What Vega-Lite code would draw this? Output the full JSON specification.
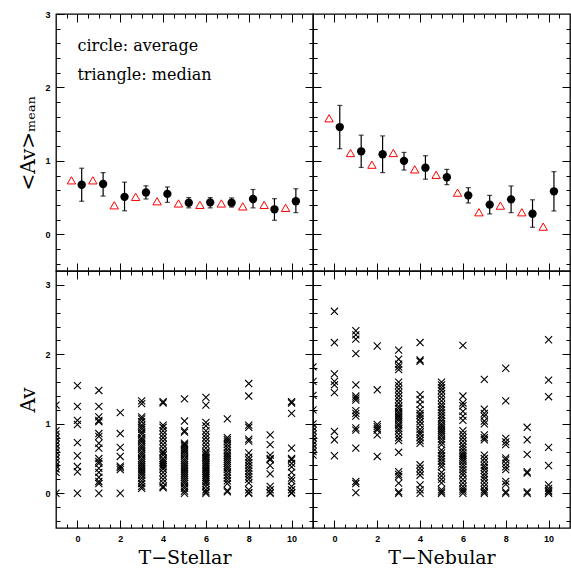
{
"$schema": "https://vega.github.io/schema/vega-lite/v6.json",
"padding": {"left": 18, "top": 9, "right": 0, "bottom": 0},
"config": {
 "view": {"stroke": "black", "strokeWidth": 1.3},
 "axis": {"domain": false, "grid": false, "tickColor": "black", "tickWidth": 1, "labelFont": "Liberation Sans", "labelFontSize": 9, "labelFontWeight": "bold", "labelColor": "black", "titleFont": "DejaVu Serif", "titleFontSize": 20, "titleFontWeight": "normal", "titleColor": "black", "labelOverlap": false, "labelBound": false, "labelFlush": false}
},
"datasets": {
 "meanTS": [
  {"x":0.2,"mean":0.675,"lo":0.45,"hi":0.90},{"x":1.2,"mean":0.685,"lo":0.52,"hi":0.84},{"x":2.2,"mean":0.51,"lo":0.32,"hi":0.71},{"x":3.2,"mean":0.57,"lo":0.48,"hi":0.66},{"x":4.2,"mean":0.55,"lo":0.435,"hi":0.645},{"x":5.2,"mean":0.43,"lo":0.36,"hi":0.50},{"x":6.2,"mean":0.435,"lo":0.36,"hi":0.50},{"x":7.2,"mean":0.43,"lo":0.37,"hi":0.495},{"x":8.2,"mean":0.48,"lo":0.36,"hi":0.61},{"x":9.2,"mean":0.34,"lo":0.19,"hi":0.485},{"x":10.2,"mean":0.45,"lo":0.295,"hi":0.62}
 ],
 "medTS": [
  {"x":-0.28,"median":0.735},{"x":0.72,"median":0.735},{"x":1.72,"median":0.395},{"x":2.72,"median":0.51},{"x":3.72,"median":0.45},{"x":4.72,"median":0.42},{"x":5.72,"median":0.40},{"x":6.72,"median":0.42},{"x":7.72,"median":0.38},{"x":8.72,"median":0.40},{"x":9.72,"median":0.36}
 ],
 "meanTN": [
  {"x":0.25,"mean":1.46,"lo":1.165,"hi":1.755},{"x":1.25,"mean":1.13,"lo":0.91,"hi":1.35},{"x":2.25,"mean":1.09,"lo":0.84,"hi":1.34},{"x":3.25,"mean":1.0,"lo":0.875,"hi":1.115},{"x":4.25,"mean":0.907,"lo":0.75,"hi":1.07},{"x":5.25,"mean":0.776,"lo":0.676,"hi":0.884},{"x":6.25,"mean":0.53,"lo":0.426,"hi":0.635},{"x":7.25,"mean":0.404,"lo":0.277,"hi":0.53},{"x":8.25,"mean":0.476,"lo":0.295,"hi":0.658},{"x":9.25,"mean":0.28,"lo":0.095,"hi":0.47},{"x":10.25,"mean":0.585,"lo":0.317,"hi":0.853}
 ],
 "medTN": [
  {"x":-0.25,"median":1.58},{"x":0.75,"median":1.107},{"x":1.75,"median":0.948},{"x":2.75,"median":1.107},{"x":3.75,"median":0.884},{"x":4.75,"median":0.81},{"x":5.75,"median":0.567},{"x":6.75,"median":0.30},{"x":7.75,"median":0.39},{"x":8.75,"median":0.30},{"x":9.75,"median":0.104}
 ],
 "notes": [
  {"x":0,"y":2.57,"text":"circle: average"},{"x":0,"y":2.17,"text":"triangle: median"}
 ],
 "avTS": [
  {"t":-1,"av":0},{"t":-1,"av":0.3},{"t":-1,"av":0.35},{"t":-1,"av":0.4},{"t":-1,"av":0.45},{"t":-1,"av":0.5},{"t":-1,"av":0.55},{"t":-1,"av":0.6},{"t":-1,"av":0.65},{"t":-1,"av":0.7},{"t":-1,"av":0.75},{"t":-1,"av":0.8},{"t":-1,"av":0.85},{"t":-1,"av":0.9},{"t":-1,"av":1.27},
  {"t":0,"av":1.55},{"t":0,"av":1.25},{"t":0,"av":1.05},{"t":0,"av":0.99},{"t":0,"av":0.73},{"t":0,"av":0.54},{"t":0,"av":0.385},{"t":0,"av":0.31},{"t":0,"av":0},
  {"t":1,"av":1.48},{"t":1,"av":1.25},{"t":1,"av":1.1},{"t":1,"av":1.05},{"t":1,"av":1.03},{"t":1,"av":0.86},{"t":1,"av":0.82},{"t":1,"av":0.72},{"t":1,"av":0.65},{"t":1,"av":0.5},{"t":1,"av":0.46},{"t":1,"av":0.43},{"t":1,"av":0.36},{"t":1,"av":0.3},{"t":1,"av":0.23},{"t":1,"av":0.17},{"t":1,"av":0.14},{"t":1,"av":0},
  {"t":2,"av":1.16},{"t":2,"av":0.86},{"t":2,"av":0.66},{"t":2,"av":0.53},{"t":2,"av":0.39},{"t":2,"av":0.37},{"t":2,"av":0.34},{"t":2,"av":0},
  {"t":3,"av":1.33},{"t":3,"av":1.29},{"t":3,"av":1.1},{"t":3,"av":1.07},{"t":3,"av":1.03},{"t":3,"av":0.98},{"t":3,"av":0.95},{"t":3,"av":0.92},{"t":3,"av":0.88},{"t":3,"av":0.85},{"t":3,"av":0.8},{"t":3,"av":0.77},{"t":3,"av":0.74},{"t":3,"av":0.7},{"t":3,"av":0.67},{"t":3,"av":0.64},{"t":3,"av":0.6},{"t":3,"av":0.57},{"t":3,"av":0.54},{"t":3,"av":0.5},{"t":3,"av":0.47},{"t":3,"av":0.44},{"t":3,"av":0.41},{"t":3,"av":0.38},{"t":3,"av":0.35},{"t":3,"av":0.32},{"t":3,"av":0.29},{"t":3,"av":0.26},{"t":3,"av":0.22},{"t":3,"av":0.18},{"t":3,"av":0.14},{"t":3,"av":0.1},{"t":3,"av":0.07},
  {"t":4,"av":1.32},{"t":4,"av":1.3},{"t":4,"av":0.98},{"t":4,"av":0.95},{"t":4,"av":0.9},{"t":4,"av":0.85},{"t":4,"av":0.8},{"t":4,"av":0.75},{"t":4,"av":0.7},{"t":4,"av":0.65},{"t":4,"av":0.6},{"t":4,"av":0.58},{"t":4,"av":0.55},{"t":4,"av":0.5},{"t":4,"av":0.47},{"t":4,"av":0.44},{"t":4,"av":0.41},{"t":4,"av":0.38},{"t":4,"av":0.35},{"t":4,"av":0.3},{"t":4,"av":0.25},{"t":4,"av":0.2},{"t":4,"av":0.15},{"t":4,"av":0.1},{"t":4,"av":0.08},
  {"t":5,"av":1.36},{"t":5,"av":1.04},{"t":5,"av":0.9},{"t":5,"av":0.88},{"t":5,"av":0.72},{"t":5,"av":0.7},{"t":5,"av":0.68},{"t":5,"av":0.65},{"t":5,"av":0.62},{"t":5,"av":0.6},{"t":5,"av":0.57},{"t":5,"av":0.54},{"t":5,"av":0.5},{"t":5,"av":0.47},{"t":5,"av":0.44},{"t":5,"av":0.41},{"t":5,"av":0.38},{"t":5,"av":0.35},{"t":5,"av":0.32},{"t":5,"av":0.29},{"t":5,"av":0.26},{"t":5,"av":0.23},{"t":5,"av":0.2},{"t":5,"av":0.17},{"t":5,"av":0.14},{"t":5,"av":0.1},{"t":5,"av":0.07},{"t":5,"av":0.03},{"t":5,"av":0},
  {"t":6,"av":1.38},{"t":6,"av":1.27},{"t":6,"av":1.02},{"t":6,"av":0.97},{"t":6,"av":0.9},{"t":6,"av":0.85},{"t":6,"av":0.8},{"t":6,"av":0.75},{"t":6,"av":0.7},{"t":6,"av":0.65},{"t":6,"av":0.6},{"t":6,"av":0.58},{"t":6,"av":0.55},{"t":6,"av":0.52},{"t":6,"av":0.5},{"t":6,"av":0.47},{"t":6,"av":0.44},{"t":6,"av":0.41},{"t":6,"av":0.38},{"t":6,"av":0.35},{"t":6,"av":0.32},{"t":6,"av":0.29},{"t":6,"av":0.26},{"t":6,"av":0.23},{"t":6,"av":0.2},{"t":6,"av":0.17},{"t":6,"av":0.14},{"t":6,"av":0.1},{"t":6,"av":0.05},{"t":6,"av":0.02},{"t":6,"av":0},
  {"t":7,"av":1.07},{"t":7,"av":0.8},{"t":7,"av":0.77},{"t":7,"av":0.74},{"t":7,"av":0.7},{"t":7,"av":0.66},{"t":7,"av":0.62},{"t":7,"av":0.58},{"t":7,"av":0.55},{"t":7,"av":0.52},{"t":7,"av":0.49},{"t":7,"av":0.46},{"t":7,"av":0.43},{"t":7,"av":0.4},{"t":7,"av":0.37},{"t":7,"av":0.34},{"t":7,"av":0.3},{"t":7,"av":0.26},{"t":7,"av":0.22},{"t":7,"av":0.18},{"t":7,"av":0.14},{"t":7,"av":0.04},{"t":7,"av":0.02},
  {"t":8,"av":1.58},{"t":8,"av":1.4},{"t":8,"av":0.98},{"t":8,"av":0.95},{"t":8,"av":0.78},{"t":8,"av":0.75},{"t":8,"av":0.58},{"t":8,"av":0.52},{"t":8,"av":0.48},{"t":8,"av":0.44},{"t":8,"av":0.4},{"t":8,"av":0.36},{"t":8,"av":0.32},{"t":8,"av":0.28},{"t":8,"av":0.24},{"t":8,"av":0.2},{"t":8,"av":0.15},{"t":8,"av":0.05},{"t":8,"av":0.01},{"t":8,"av":0},
  {"t":9,"av":0.84},{"t":9,"av":0.7},{"t":9,"av":0.55},{"t":9,"av":0.5},{"t":9,"av":0.48},{"t":9,"av":0.4},{"t":9,"av":0.28},{"t":9,"av":0.1},{"t":9,"av":0.05},{"t":9,"av":0.01},{"t":9,"av":0},
  {"t":10,"av":1.32},{"t":10,"av":1.3},{"t":10,"av":1.15},{"t":10,"av":0.65},{"t":10,"av":0.5},{"t":10,"av":0.48},{"t":10,"av":0.43},{"t":10,"av":0.38},{"t":10,"av":0.3},{"t":10,"av":0.22},{"t":10,"av":0.18},{"t":10,"av":0.1},{"t":10,"av":0.05},{"t":10,"av":0.01},{"t":10,"av":0}
 ],
 "avTN": [
  {"t":-1,"av":1.82},{"t":-1,"av":1.61},{"t":-1,"av":1.41},{"t":-1,"av":1.2},{"t":-1,"av":1.0},{"t":-1,"av":0.95},{"t":-1,"av":0.9},{"t":-1,"av":0.85},{"t":-1,"av":0.8},{"t":-1,"av":0.75},{"t":-1,"av":0.7},{"t":-1,"av":0.65},{"t":-1,"av":0.6},{"t":-1,"av":0.55},
  {"t":0,"av":2.62},{"t":0,"av":2.17},{"t":0,"av":1.72},{"t":0,"av":1.61},{"t":0,"av":1.56},{"t":0,"av":1.45},{"t":0,"av":0.89},{"t":0,"av":0.77},{"t":0,"av":0.54},
  {"t":1,"av":2.34},{"t":1,"av":2.28},{"t":1,"av":2.22},{"t":1,"av":2.01},{"t":1,"av":1.56},{"t":1,"av":1.4},{"t":1,"av":1.37},{"t":1,"av":1.34},{"t":1,"av":1.19},{"t":1,"av":1.15},{"t":1,"av":1.11},{"t":1,"av":0.94},{"t":1,"av":0.91},{"t":1,"av":0.65},{"t":1,"av":0.17},{"t":1,"av":0.14},{"t":1,"av":0.01},
  {"t":2,"av":2.12},{"t":2,"av":1.49},{"t":2,"av":0.99},{"t":2,"av":0.96},{"t":2,"av":0.93},{"t":2,"av":0.91},{"t":2,"av":0.84},{"t":2,"av":0.53},
  {"t":3,"av":2.06},{"t":3,"av":1.93},{"t":3,"av":1.86},{"t":3,"av":1.82},{"t":3,"av":1.78},{"t":3,"av":1.6},{"t":3,"av":1.55},{"t":3,"av":1.5},{"t":3,"av":1.45},{"t":3,"av":1.4},{"t":3,"av":1.35},{"t":3,"av":1.3},{"t":3,"av":1.25},{"t":3,"av":1.22},{"t":3,"av":1.18},{"t":3,"av":1.15},{"t":3,"av":1.12},{"t":3,"av":1.1},{"t":3,"av":1.07},{"t":3,"av":1.04},{"t":3,"av":1.0},{"t":3,"av":0.97},{"t":3,"av":0.93},{"t":3,"av":0.9},{"t":3,"av":0.85},{"t":3,"av":0.8},{"t":3,"av":0.76},{"t":3,"av":0.59},{"t":3,"av":0.31},{"t":3,"av":0.27},{"t":3,"av":0.24},{"t":3,"av":0.145},{"t":3,"av":0.02},{"t":3,"av":0},
  {"t":4,"av":2.17},{"t":4,"av":1.92},{"t":4,"av":1.9},{"t":4,"av":1.42},{"t":4,"av":1.35},{"t":4,"av":1.28},{"t":4,"av":1.2},{"t":4,"av":1.15},{"t":4,"av":1.12},{"t":4,"av":1.08},{"t":4,"av":1.03},{"t":4,"av":0.98},{"t":4,"av":0.92},{"t":4,"av":0.88},{"t":4,"av":0.85},{"t":4,"av":0.8},{"t":4,"av":0.76},{"t":4,"av":0.72},{"t":4,"av":0.41},{"t":4,"av":0.36},{"t":4,"av":0.31},{"t":4,"av":0.26},{"t":4,"av":0.12},{"t":4,"av":0.05},{"t":4,"av":0},
  {"t":5,"av":1.6},{"t":5,"av":1.56},{"t":5,"av":1.52},{"t":5,"av":1.48},{"t":5,"av":1.43},{"t":5,"av":1.38},{"t":5,"av":1.33},{"t":5,"av":1.28},{"t":5,"av":1.24},{"t":5,"av":1.2},{"t":5,"av":1.16},{"t":5,"av":1.12},{"t":5,"av":1.08},{"t":5,"av":1.04},{"t":5,"av":1.0},{"t":5,"av":0.97},{"t":5,"av":0.94},{"t":5,"av":0.91},{"t":5,"av":0.88},{"t":5,"av":0.85},{"t":5,"av":0.82},{"t":5,"av":0.78},{"t":5,"av":0.74},{"t":5,"av":0.7},{"t":5,"av":0.62},{"t":5,"av":0.58},{"t":5,"av":0.54},{"t":5,"av":0.5},{"t":5,"av":0.46},{"t":5,"av":0.42},{"t":5,"av":0.38},{"t":5,"av":0.3},{"t":5,"av":0.25},{"t":5,"av":0.2},{"t":5,"av":0.15},{"t":5,"av":0.05},{"t":5,"av":0.02},{"t":5,"av":0},
  {"t":6,"av":2.13},{"t":6,"av":1.4},{"t":6,"av":1.3},{"t":6,"av":1.26},{"t":6,"av":1.18},{"t":6,"av":1.11},{"t":6,"av":1.05},{"t":6,"av":0.9},{"t":6,"av":0.85},{"t":6,"av":0.8},{"t":6,"av":0.75},{"t":6,"av":0.7},{"t":6,"av":0.66},{"t":6,"av":0.62},{"t":6,"av":0.58},{"t":6,"av":0.55},{"t":6,"av":0.52},{"t":6,"av":0.49},{"t":6,"av":0.46},{"t":6,"av":0.42},{"t":6,"av":0.38},{"t":6,"av":0.34},{"t":6,"av":0.3},{"t":6,"av":0.26},{"t":6,"av":0.2},{"t":6,"av":0.15},{"t":6,"av":0.1},{"t":6,"av":0.06},{"t":6,"av":0.03},{"t":6,"av":0},
  {"t":7,"av":1.64},{"t":7,"av":1.21},{"t":7,"av":1.15},{"t":7,"av":1.11},{"t":7,"av":1.04},{"t":7,"av":1.0},{"t":7,"av":0.84},{"t":7,"av":0.8},{"t":7,"av":0.77},{"t":7,"av":0.55},{"t":7,"av":0.5},{"t":7,"av":0.45},{"t":7,"av":0.4},{"t":7,"av":0.37},{"t":7,"av":0.33},{"t":7,"av":0.28},{"t":7,"av":0.24},{"t":7,"av":0.2},{"t":7,"av":0.15},{"t":7,"av":0.1},{"t":7,"av":0.05},{"t":7,"av":0.02},{"t":7,"av":0},
  {"t":8,"av":1.8},{"t":8,"av":1.33},{"t":8,"av":0.79},{"t":8,"av":0.74},{"t":8,"av":0.7},{"t":8,"av":0.51},{"t":8,"av":0.48},{"t":8,"av":0.43},{"t":8,"av":0.38},{"t":8,"av":0.34},{"t":8,"av":0.17},{"t":8,"av":0.13},{"t":8,"av":0.02},{"t":8,"av":0},
  {"t":9,"av":0.95},{"t":9,"av":0.77},{"t":9,"av":0.56},{"t":9,"av":0.31},{"t":9,"av":0.29},{"t":9,"av":0.02},{"t":9,"av":0},
  {"t":10,"av":2.21},{"t":10,"av":1.63},{"t":10,"av":1.39},{"t":10,"av":0.66},{"t":10,"av":0.4},{"t":10,"av":0.12},{"t":10,"av":0.07},{"t":10,"av":0.04},{"t":10,"av":0.02},{"t":10,"av":0}
 ]
},
"columns": 2,
"spacing": 0,
"bounds": "flush",
"concat": [
  {"width": 257, "height": 257,
   "layer": [
    {"data": {"name": "meanTS"}, "mark": {"type": "errorbar", "ticks": {"size": 5, "thickness": 1.2}, "thickness": 1.2, "color": "black"},
     "encoding": {
      "x": {"field": "x", "type": "quantitative", "scale": {"domain": [-1, 11], "nice": false, "zero": false}, "axis": {"orient": "bottom", "values": [-0.5,0,0.5,1,1.5,2,2.5,3,3.5,4,4.5,5,5.5,6,6.5,7,7.5,8,8.5,9,9.5,10,10.5], "tickSize": {"condition": {"test": "datum.value % 2 === 0", "value": -8}, "value": -4}, "labels": false, "title": null}},
      "y": {"field": "lo", "type": "quantitative", "scale": {"domain": [-0.5, 3], "nice": false, "zero": false}, "axis": {"orient": "left", "values": [-0.4,-0.2,0,0.2,0.4,0.6,0.8,1,1.2,1.4,1.6,1.8,2,2.2,2.4,2.6,2.8,3], "tickSize": {"condition": {"test": "datum.value % 1 === 0", "value": -8}, "value": -4}, "labelExpr": "datum.value % 1 === 0 ? format(datum.value, 'd') : ''", "labelPadding": 14, "title": "<Av>ₘₑₐₙ", "titlePadding": 6}},
      "y2": {"field": "hi"}}},
    {"data": {"name": "meanTS"}, "mark": {"type": "circle", "size": 70, "color": "black", "opacity": 1},
     "encoding": {
      "x": {"field": "x", "type": "quantitative", "scale": {"domain": [-1, 11], "nice": false, "zero": false}, "axis": {"orient": "top", "values": [-0.5,0,0.5,1,1.5,2,2.5,3,3.5,4,4.5,5,5.5,6,6.5,7,7.5,8,8.5,9,9.5,10,10.5], "tickSize": {"condition": {"test": "datum.value % 2 === 0", "value": -8}, "value": -4}, "labels": false, "title": null}},
      "y": {"field": "mean", "type": "quantitative", "scale": {"domain": [-0.5, 3], "nice": false, "zero": false}, "axis": {"orient": "right", "values": [-0.4,-0.2,0,0.2,0.4,0.6,0.8,1,1.2,1.4,1.6,1.8,2,2.2,2.4,2.6,2.8], "tickSize": {"condition": {"test": "datum.value % 1 === 0", "value": -8}, "value": -4}, "labels": false, "title": null}}}},
    {"data": {"name": "medTS"}, "mark": {"type": "point", "shape": "triangle-up", "filled": false, "stroke": "#ff0000", "strokeWidth": 1, "size": 70, "opacity": 1},
     "encoding": {
      "x": {"field": "x", "type": "quantitative", "axis": null},
      "y": {"field": "median", "type": "quantitative", "axis": null}}},
    {"data": {"name": "notes"}, "mark": {"type": "text", "align": "left", "baseline": "middle", "font": "DejaVu Serif", "fontSize": 16, "color": "black"},
     "encoding": {
      "x": {"field": "x", "type": "quantitative", "axis": null},
      "y": {"field": "y", "type": "quantitative", "axis": null},
      "text": {"field": "text"}}}
   ],
   "resolve": {"axis": {"x": "independent", "y": "independent"}}
  },
  {"width": 257, "height": 257,
   "layer": [
    {"data": {"name": "meanTN"}, "mark": {"type": "errorbar", "ticks": {"size": 5, "thickness": 1.2}, "thickness": 1.2, "color": "black"},
     "encoding": {
      "x": {"field": "x", "type": "quantitative", "scale": {"domain": [-1, 11], "nice": false, "zero": false}, "axis": {"orient": "bottom", "values": [-0.5,0,0.5,1,1.5,2,2.5,3,3.5,4,4.5,5,5.5,6,6.5,7,7.5,8,8.5,9,9.5,10,10.5], "tickSize": {"condition": {"test": "datum.value % 2 === 0", "value": -8}, "value": -4}, "labels": false, "title": null}},
      "y": {"field": "lo", "type": "quantitative", "scale": {"domain": [-0.5, 3], "nice": false, "zero": false}, "axis": {"orient": "left", "values": [-0.4,-0.2,0,0.2,0.4,0.6,0.8,1,1.2,1.4,1.6,1.8,2,2.2,2.4,2.6,2.8], "tickSize": {"condition": {"test": "datum.value % 1 === 0", "value": -8}, "value": -4}, "labels": false, "title": null}},
      "y2": {"field": "hi"}}},
    {"data": {"name": "meanTN"}, "mark": {"type": "circle", "size": 70, "color": "black", "opacity": 1},
     "encoding": {
      "x": {"field": "x", "type": "quantitative", "scale": {"domain": [-1, 11], "nice": false, "zero": false}, "axis": {"orient": "top", "values": [-0.5,0,0.5,1,1.5,2,2.5,3,3.5,4,4.5,5,5.5,6,6.5,7,7.5,8,8.5,9,9.5,10,10.5], "tickSize": {"condition": {"test": "datum.value % 2 === 0", "value": -8}, "value": -4}, "labels": false, "title": null}},
      "y": {"field": "mean", "type": "quantitative", "scale": {"domain": [-0.5, 3], "nice": false, "zero": false}, "axis": {"orient": "right", "values": [-0.4,-0.2,0,0.2,0.4,0.6,0.8,1,1.2,1.4,1.6,1.8,2,2.2,2.4,2.6,2.8], "tickSize": {"condition": {"test": "datum.value % 1 === 0", "value": -8}, "value": -4}, "labels": false, "title": null}}}},
    {"data": {"name": "medTN"}, "mark": {"type": "point", "shape": "triangle-up", "filled": false, "stroke": "#ff0000", "strokeWidth": 1, "size": 70, "opacity": 1},
     "encoding": {
      "x": {"field": "x", "type": "quantitative", "axis": null},
      "y": {"field": "median", "type": "quantitative", "axis": null}}}
   ],
   "resolve": {"axis": {"x": "independent", "y": "independent"}}
  },
  {"width": 257, "height": 257,
   "data": {"name": "avTS"},
   "layer": [
    {"mark": {"type": "point", "shape": "M-1,-1L1,1M-1,1L1,-1", "filled": false, "stroke": "black", "strokeWidth": 1.1, "size": 50, "opacity": 1, "clip": true},
     "encoding": {
      "x": {"field": "t", "type": "quantitative", "scale": {"domain": [-1, 11], "nice": false, "zero": false}, "axis": {"orient": "bottom", "values": [-0.5,0,0.5,1,1.5,2,2.5,3,3.5,4,4.5,5,5.5,6,6.5,7,7.5,8,8.5,9,9.5,10,10.5], "tickSize": {"condition": {"test": "datum.value % 2 === 0", "value": -8}, "value": -4}, "labelExpr": "datum.value % 2 === 0 ? format(datum.value, 'd') : ''", "labelPadding": 14, "title": "T−Stellar", "titlePadding": 1, "titleFontSize": 19}},
      "y": {"field": "av", "type": "quantitative", "scale": {"domain": [-0.5, 3.2], "nice": false, "zero": false}, "axis": {"orient": "left", "values": [-0.4,-0.2,0,0.2,0.4,0.6,0.8,1,1.2,1.4,1.6,1.8,2,2.2,2.4,2.6,2.8,3], "tickSize": {"condition": {"test": "datum.value % 1 === 0", "value": -8}, "value": -4}, "labelExpr": "datum.value % 1 === 0 ? format(datum.value, 'd') : ''", "labelPadding": 14, "title": "Av", "titlePadding": 6}}}},
    {"mark": {"type": "point", "opacity": 0},
     "encoding": {
      "x": {"field": "t", "type": "quantitative", "scale": {"domain": [-1, 11], "nice": false, "zero": false}, "axis": {"orient": "top", "values": [-0.5,0,0.5,1,1.5,2,2.5,3,3.5,4,4.5,5,5.5,6,6.5,7,7.5,8,8.5,9,9.5,10,10.5], "tickSize": {"condition": {"test": "datum.value % 2 === 0", "value": -8}, "value": -4}, "labels": false, "title": null}},
      "y": {"field": "av", "type": "quantitative", "scale": {"domain": [-0.5, 3.2], "nice": false, "zero": false}, "axis": {"orient": "right", "values": [-0.4,-0.2,0,0.2,0.4,0.6,0.8,1,1.2,1.4,1.6,1.8,2,2.2,2.4,2.6,2.8,3], "tickSize": {"condition": {"test": "datum.value % 1 === 0", "value": -8}, "value": -4}, "labels": false, "title": null}}}}
   ],
   "resolve": {"axis": {"x": "independent", "y": "independent"}}
  },
  {"width": 257, "height": 257,
   "data": {"name": "avTN"},
   "layer": [
    {"mark": {"type": "point", "shape": "M-1,-1L1,1M-1,1L1,-1", "filled": false, "stroke": "black", "strokeWidth": 1.1, "size": 50, "opacity": 1, "clip": true},
     "encoding": {
      "x": {"field": "t", "type": "quantitative", "scale": {"domain": [-1, 11], "nice": false, "zero": false}, "axis": {"orient": "bottom", "values": [-0.5,0,0.5,1,1.5,2,2.5,3,3.5,4,4.5,5,5.5,6,6.5,7,7.5,8,8.5,9,9.5,10,10.5], "tickSize": {"condition": {"test": "datum.value % 2 === 0", "value": -8}, "value": -4}, "labelExpr": "datum.value % 2 === 0 ? format(datum.value, 'd') : ''", "labelPadding": 14, "title": "T−Nebular", "titlePadding": 1, "titleFontSize": 19}},
      "y": {"field": "av", "type": "quantitative", "scale": {"domain": [-0.5, 3.2], "nice": false, "zero": false}, "axis": {"orient": "left", "values": [-0.4,-0.2,0,0.2,0.4,0.6,0.8,1,1.2,1.4,1.6,1.8,2,2.2,2.4,2.6,2.8,3], "tickSize": {"condition": {"test": "datum.value % 1 === 0", "value": -8}, "value": -4}, "labels": false, "title": null}}}},
    {"mark": {"type": "point", "opacity": 0},
     "encoding": {
      "x": {"field": "t", "type": "quantitative", "scale": {"domain": [-1, 11], "nice": false, "zero": false}, "axis": {"orient": "top", "values": [-0.5,0,0.5,1,1.5,2,2.5,3,3.5,4,4.5,5,5.5,6,6.5,7,7.5,8,8.5,9,9.5,10,10.5], "tickSize": {"condition": {"test": "datum.value % 2 === 0", "value": -8}, "value": -4}, "labels": false, "title": null}},
      "y": {"field": "av", "type": "quantitative", "scale": {"domain": [-0.5, 3.2], "nice": false, "zero": false}, "axis": {"orient": "right", "values": [-0.4,-0.2,0,0.2,0.4,0.6,0.8,1,1.2,1.4,1.6,1.8,2,2.2,2.4,2.6,2.8,3], "tickSize": {"condition": {"test": "datum.value % 1 === 0", "value": -8}, "value": -4}, "labels": false, "title": null}}}}
   ],
   "resolve": {"axis": {"x": "independent", "y": "independent"}}
  }
]
}
